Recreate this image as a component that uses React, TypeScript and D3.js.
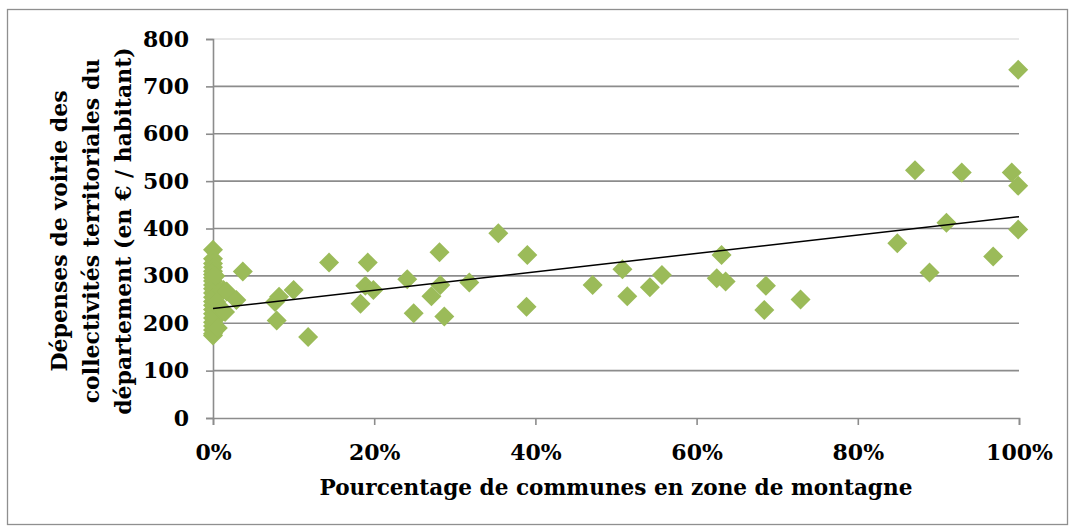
import { useRef, useEffect } from 'react';
import * as d3 from 'd3';

// % of communes in mountain zone
const pct = [
  0, 0, 0, 0, 0, 0, 0, 0, 0, 0, 0, 0, 0, 0, 0, 0, 0, 0, 0, 0, 0, 0,
  0.3, 0.4, 0.5, 0.6, 0.9, 1.3, 1.5, 1.7, 2.9, 3.7,
  7.7, 7.9, 8.2, 10, 11.8, 14.4, 18.3, 18.9, 19.2, 19.9,
  24.1, 24.9, 27.1, 28.1, 28.2, 28.7, 31.8, 35.4, 38.9, 39.0,
  47.1, 50.8, 51.4, 54.2, 55.7, 62.5, 63.1, 63.6, 68.4, 68.6, 72.9,
  84.9, 87.1, 88.9, 91.0, 92.9, 96.8, 99.1, 99.9, 99.9, 99.9,
];
// road spending, € / inhabitant
const spend = [
  355, 336, 326, 318, 310, 303, 296, 289, 281, 273, 264, 255, 246, 238, 229, 220, 211, 202, 194, 186, 178, 174,
  300, 245, 212, 190, 228, 270, 224, 267, 249, 309,
  245, 206, 256, 270, 171, 328, 241, 279, 328, 270,
  293, 221, 257, 350, 281, 214, 286, 390, 235, 344,
  281, 314, 257, 276, 302, 295, 344, 288, 228, 279, 250,
  369, 523, 307, 412, 518, 341, 518, 735, 490, 398,
];
// trend line read at 0% and 100%
const trendX = [0, 100];
const trendY = [231, 425];

const yTicks = [0, 100, 200, 300, 400, 500, 600, 700, 800];
const xTicks = [0, 20, 40, 60, 80, 100];
const yTitle = ['Dépenses de voirie des', 'collectivités territoriales du', 'département (en € / habitant)'];
const xTitle = 'Pourcentage de communes en zone de montagne';

const Chart = () => {
  const svgRef = useRef<SVGSVGElement>(null);

  useEffect(() => {
    document.body.style.margin = '0';
    const width = 1075;
    const height = 531;
    const left = 213;
    const right = 1019;
    const top = 39;
    const bottom = 418;
    const font = '"DejaVu Serif", serif';
    const grey = '#8c8c8c';

    const x = d3.scaleLinear([0, 100], [left, right]);
    const y = d3.scaleLinear([0, 800], [bottom, top]);

    const svg = d3.select(svgRef.current);
    svg.selectAll('*').remove();
    svg.attr('width', width).attr('height', height);

    svg.append('rect')
      .attr('x', 7.5).attr('y', 9.5)
      .attr('width', 1060).attr('height', 515)
      .attr('fill', '#fff').attr('stroke', '#8f8f8f').attr('stroke-width', 1.3);

    // gridlines (top one is faint in the original)
    svg.append('g')
      .selectAll('line')
      .data(yTicks.filter((d) => d > 0))
      .join('line')
      .attr('x1', left).attr('x2', right)
      .attr('y1', (d) => y(d)).attr('y2', (d) => y(d))
      .attr('stroke', (d) => (d === 800 ? '#e2e2e2' : grey)).attr('stroke-width', 1.6);

    // y axis
    svg.append('g')
      .attr('transform', `translate(${left},0)`)
      .call(d3.axisLeft(y).tickValues(yTicks).tickSize(7).tickPadding(17).tickFormat(d3.format('d')))
      .call((g) => g.select('.domain').attr('stroke', grey).attr('stroke-width', 1.6))
      .call((g) => g.selectAll('.tick line').attr('stroke', grey).attr('stroke-width', 1.6))
      .call((g) => g.selectAll('.tick text')
        .attr('font-size', 22).attr('font-family', font).attr('font-weight', 'bold').attr('fill', '#000'));

    // x axis
    svg.append('g')
      .attr('transform', `translate(0,${bottom})`)
      .call(d3.axisBottom(x).tickValues(xTicks).tickSize(7).tickSizeOuter(7).tickPadding(13).tickFormat((d) => `${d}%`))
      .call((g) => g.select('.domain').attr('stroke', grey).attr('stroke-width', 1.6))
      .call((g) => g.selectAll('.tick line').attr('stroke', grey).attr('stroke-width', 1.6))
      .call((g) => g.selectAll('.tick text')
        .attr('font-size', 22).attr('font-family', font).attr('font-weight', 'bold').attr('fill', '#000').attr('dy', '1em'));

    // points
    const diamond = d3.symbol(d3.symbolSquare, 200);
    svg.append('g')
      .selectAll('path')
      .data(d3.range(pct.length))
      .join('path')
      .attr('d', diamond)
      .attr('transform', (i) => `translate(${x(pct[i])},${y(spend[i])}) rotate(45)`)
      .attr('fill', '#9bbb59');

    // trend line
    const line = d3.line<number>()
      .x((i) => x(trendX[i]))
      .y((i) => y(trendY[i]));
    svg.append('path')
      .attr('d', line(d3.range(trendX.length)))
      .attr('fill', 'none').attr('stroke', '#000').attr('stroke-width', 1.5);

    // titles
    svg.append('text')
      .attr('x', (left + right) / 2).attr('y', 495)
      .attr('text-anchor', 'middle')
      .attr('font-size', 21.6).attr('font-family', font).attr('font-weight', 'bold')
      .text(xTitle);

    const yt = svg.append('text')
      .attr('transform', `translate(0,231) rotate(-90)`)
      .attr('text-anchor', 'middle')
      .attr('font-size', 22).attr('font-family', font).attr('font-weight', 'bold');
    yTitle.forEach((t, i) => {
      yt.append('tspan').attr('x', 0).attr('y', 67 + i * 32).text(t);
    });
  }, []);

  return <svg ref={svgRef} style={{ display: 'block' }} />;
};

export default function App() {
  return <Chart />;
}
